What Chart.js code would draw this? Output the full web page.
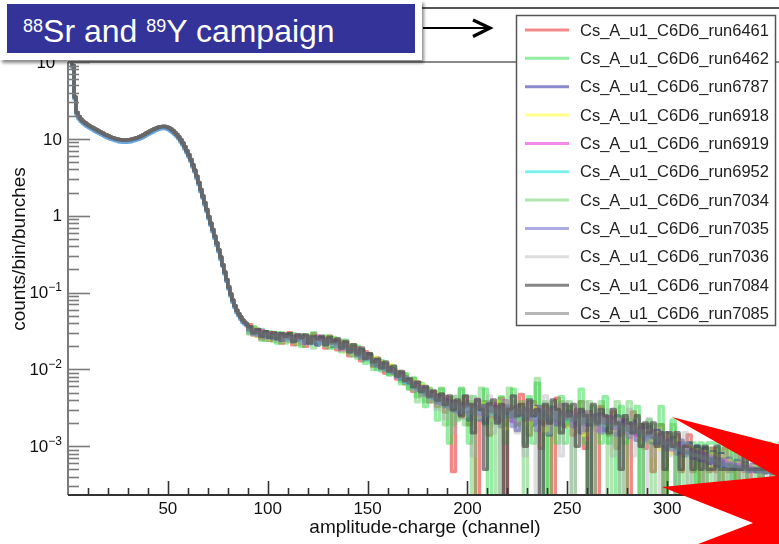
<!DOCTYPE html>
<html><head><meta charset="utf-8">
<script src="https://cdn.jsdelivr.net/npm/chart.js@4.4.1/dist/chart.umd.min.js"></script>
<style>
html,body{margin:0;padding:0;background:#fff;overflow:hidden;}
#wrap{position:relative;width:779px;height:544px;overflow:hidden;}
#c{position:absolute;left:0;top:0;}
#titleBox{position:absolute;left:0;top:0;width:422px;height:60px;background:#fff;box-shadow:2px 3px 3px rgba(0,0,0,0.45);}
#titleInner{position:absolute;left:7px;top:4px;width:408px;height:49px;background:#333399;color:#fff;
 font-family:"Liberation Sans",Arial,Helvetica,sans-serif;font-size:32px;line-height:55px;padding-left:16px;box-sizing:border-box;overflow:hidden;white-space:nowrap;}
#titleInner .sup{font-size:18px;position:relative;top:-10px;}
</style></head>
<body><div id="wrap"><canvas id="c" width="779" height="544"></canvas>
<div id="titleBox"><div id="titleInner"><span class="sup">88</span>Sr and <span class="sup">89</span>Y campaign</div></div>
</div>
<script>
// ---------- data ----------
const seriesLabels = ["Cs_A_u1_C6D6_run6461","Cs_A_u1_C6D6_run6462","Cs_A_u1_C6D6_run6787","Cs_A_u1_C6D6_run6918","Cs_A_u1_C6D6_run6919","Cs_A_u1_C6D6_run6952","Cs_A_u1_C6D6_run7034","Cs_A_u1_C6D6_run7035","Cs_A_u1_C6D6_run7036","Cs_A_u1_C6D6_run7084","Cs_A_u1_C6D6_run7085"];
const seriesColors = ["rgba(230,40,40,0.55)","rgba(40,220,70,0.5)","rgba(40,40,160,0.55)","rgba(255,255,60,0.6)","rgba(235,40,220,0.55)","rgba(40,230,230,0.6)","rgba(60,190,60,0.4)","rgba(90,90,200,0.5)","rgba(170,170,170,0.4)","rgba(70,70,70,0.65)","rgba(110,110,110,0.5)"];
const xTickLabels = [50,100,150,200,250,300,350];
const yDecades = [-3,-2,-1,0,1,2];
// channels 0..89, 1-channel bins (counts/bin/bunches)
const headValues = [400,200,90,35,22,19.5,18,17,16.2,15.5,
 14.9,14.4,13.9,13.4,13.0,12.6,12.2,11.8,11.4,11.1,
 10.8,10.5,10.3,10.1,9.95,9.8,9.7,9.65,9.6,9.65,
 9.7,9.8,9.95,10.1,10.3,10.5,10.8,11.1,11.5,11.9,
 12.3,12.7,13.1,13.5,13.85,14.15,14.4,14.5,14.45,14.25,
 13.9,13.4,12.8,12.1,11.4,10.6,9.7,8.8,7.9,7.0,
 6.2,5.4,4.6,3.9,3.25,2.7,2.2,1.8,1.47,1.2,
 0.97,0.8,0.66,0.54,0.44,0.36,0.29,0.23,0.185,0.148,
 0.118,0.096,0.08,0.068,0.059,0.053,0.048,0.044,0.041,0.039];
// slightly lower runs (6952, 7035) in channels 0..89
const headLowValues = [400,200,85,33,20.7,18.3,16.9,16,15.2,14.6,
 14,13.5,13.1,12.6,12.2,11.8,11.5,11.1,10.7,10.4,
 10.2,9.9,9.7,9.5,9.35,9.2,9.1,9.05,9.0,9.05,
 9.1,9.2,9.35,9.5,9.7,9.9,10.15,10.4,10.8,11.2,
 11.6,11.9,12.3,12.7,13.0,13.3,13.5,13.6,13.6,13.4,
 13.1,12.6,12.0,11.4,10.7,10.0,9.1,8.3,7.4,6.6,
 5.8,5.1,4.3,3.7,3.05,2.55,2.05,1.7,1.38,1.13,
 0.91,0.75,0.62,0.51,0.41,0.34,0.27,0.22,0.174,0.139,
 0.111,0.09,0.075,0.064,0.055,0.05,0.045,0.041,0.039,0.037];
// channels 90..360, 2-channel bins, in units of 1e-3 counts/bin/bunches
const tail6461 = [38,28,33,25,31,24,30,27,22,29, 30,21,27,28,20,26,29,22,25,19, 27,24,18,23,22,15,20,18,13,17,
 16,11,14,12,9,11,10,7.5,9.2,6.5, 7.5,5.2,6.8,4.6,5.8,3.8,5.2,3.3,4.7,2.8, 4.2,0.47,3.8,2.4,4.4,1.9,3.3,0,2.8,3.8,
 1.4,3.3,2.4,4.2,0,2.8,3.3,1.9,4.7,2.4, 1.4,3.8,2.8,0.94,3.3,2.4,0,4.2,2.8,1.9, 3.3,1.4,2.4,3.8,0.94,2.8,1.9,0,3.3,2.4,
 1.4,2.8,0.94,2.4,1.9,0,2.8,1.4,1.9,0.94, 1.9,0.47,1.4,1.9,0,1.4,0.94,1.4,0.47,0.94, 1.4,0.47,0.94,0,0.94,0.47,0.94,0.47,0,0.94,
 0.47,0.47,0,0.94,0.47,0,0.47,0.47,0,0.47, 0.47,0,0.47,0.47,0];
const tail6462 = [30,36,27,33,24,31,29,22,30,28, 23,29,26,20,28,25,30,21,24,27, 19,26,23,17,24,20,15,20,17,12,
 15,12,10,13,12,8.5,11,9,6.5,8.8, 5.5,7.7,4.4,6.6,3.3,5.5,4.4,2.2,5.5,3.3, 1.1,4.4,2.2,5.5,3.3,1.1,4.4,2.2,3.3,5.5,
 0,3.3,2.2,4.4,1.1,2.2,5.5,2.2,3.3,1.1, 4.4,1.1,6.6,2.2,0,3.3,2.2,1.1,4.4,1.1, 3.3,2.2,2.2,5.5,1.1,0,3.3,2.2,1.1,4.4,
 1.1,2.2,0,3.3,1.1,2.2,2.2,3.3,0,1.1, 2.2,1.1,1.1,3.3,0,1.1,2.2,0,1.1,1.1, 1.1,1.1,0,1.1,0,1.1,1.1,1.1,0,1.1,
 0,1.1,0,1.1,1.1,0,0,1.1,0,1.1, 1.1,0,0,1.1,0];
const tail6787 = [34,29,32,27,30,26,29,28,24,27, 28,23,27,25,22,26,24,21,26,23, 25,20,23,21,18,20,19,15,18,14,
 15,12.5,11.5,12,10,10.5,9.5,8,8.8,7, 7.2,5.9,6.3,5.0,5.6,4.3,4.9,3.7,4.4,3.3, 3.9,2.9,3.8,2.6,3.6,2.2,3.5,2.5,3.4,2.0,
 3.6,2.3,3.3,1.8,3.4,2.4,3.1,1.6,3.2,2.2, 3.0,1.9,3.3,2.0,2.8,1.4,3.1,2.2,2.7,1.8, 2.9,2.0,2.6,1.5,2.8,1.9,2.5,1.7,2.6,1.6,
 2.4,1.7,2.5,1.4,2.2,1.5,2.1,1.2,1.9,1.3, 1.8,1.1,1.6,1.0,1.5,0.9,1.3,0.8,1.2,0.75, 1.1,0.7,1.0,0.65,0.95,0.6,0.85,0.55,0.8,0.55,
 0.7,0.5,0.65,0.5,0.6,0.47,0.58,0.47,0.55,0.45, 0.5,0.45,0.48,0.44,0.45];
const tail6918 = [31,34,27,31,29,25,30,26,28,23, 25,28,22,27,26,23,27,25,21,26, 21,25,20,23,17,21,16,19,14,16,
 13,14.5,11,12.5,10,11.5,8.6,9.5,7.5,8.2, 6.5,7.2,5.5,6.3,4.8,5.4,4.2,4.9,3.7,4.3, 3.3,4.0,3.0,3.9,2.5,3.7,3.0,2.4,3.6,2.7,
 3.4,2.2,3.8,2.6,1.7,3.5,2.9,2.2,3.3,2.6, 1.9,3.2,2.4,3.0,1.6,2.8,3.1,2.0,2.6,2.3, 1.8,2.9,2.2,2.5,1.4,2.7,2.1,1.7,2.5,1.9,
 2.3,1.6,2.2,1.8,1.3,2.1,1.6,1.9,1.2,1.6, 1.5,1.2,1.5,0.9,1.4,1.1,0.8,1.2,0.95,0.8, 1.0,0.75,0.9,0.7,0.85,0.65,0.8,0.6,0.75,0.58,
 0.65,0.55,0.6,0.52,0.58,0.5,0.55,0.48,0.5,0.47, 0.47,0.46,0.45,0.45,0.44];
const tail6919 = [35,30,28,32,26,30,27,25,29,24, 27,25,28,22,27,24,22,27,23,25, 24,21,24,18,22,19,17,19,15,16,
 14.5,12,13,10.5,11.5,9.5,10,8,8.5,7.6, 6.6,6.9,5.4,6.0,4.6,5.3,4.3,4.6,3.6,4.4, 3.1,3.8,3.6,2.7,3.9,2.9,3.3,4.1,2.6,3.2,
 2.5,3.6,3.2,2.2,3.9,2.7,2.1,3.4,2.9,2.4, 3.7,2.2,2.6,3.3,1.9,3.0,2.7,2.0,3.5,2.2, 2.7,1.8,3.0,2.4,1.9,2.8,2.2,1.6,2.6,2.0,
 2.4,1.7,2.0,2.2,1.5,1.9,1.7,1.4,1.8,1.4, 1.3,1.6,1.1,1.4,1.0,1.2,0.9,1.1,0.8,1.0, 0.8,0.9,0.7,0.85,0.65,0.75,0.62,0.7,0.58,0.64,
 0.56,0.6,0.52,0.57,0.5,0.54,0.48,0.5,0.47,0.48, 0.46,0.47,0.45,0.45,0.44];
const tail6952 = [31,29,29,27,27,26,26,25,25,24, 25,23,24,23,23,22,22,22,22,21, 22,21,20,19,19,17,17,15.5,15,13.5,
 13,11.5,11.5,10,10,9,8.8,8,7.4,6.8, 6.4,5.9,5.5,5.1,4.7,4.5,4.1,4.0,3.7,3.5, 3.4,3.1,3.3,2.8,3.0,3.2,2.6,3.0,2.7,2.5,
 3.0,2.6,2.8,2.4,2.9,2.5,2.7,2.3,2.8,2.4, 2.6,2.5,2.3,2.7,2.4,2.2,2.6,2.3,2.4,2.1, 2.5,2.2,2.3,2.0,2.4,2.1,2.0,2.2,1.9,2.0,
 1.9,1.8,2.0,1.7,1.6,1.7,1.5,1.6,1.4,1.4, 1.3,1.3,1.2,1.1,1.1,1.0,0.95,0.9,0.9,0.85, 0.8,0.78,0.75,0.72,0.7,0.67,0.65,0.62,0.6,0.58,
 0.56,0.55,0.53,0.52,0.5,0.5,0.49,0.48,0.47,0.46, 0.46,0.45,0.45,0.44,0.44];
const tail7034 = [29,35,30,24,31,27,23,30,28,22, 29,24,21,28,25,27,19,26,24,21, 27,19,24,20,22,16,21,14,18,15,
 16,10,14,9.5,12,8.5,10,9,7,8.5, 5.7,7.6,3.8,5.7,3.8,5.7,3.8,3.8,5.7,1.9, 3.8,1.9,3.8,5.7,1.9,3.8,0,3.8,5.7,1.9,
 3.8,1.9,0,3.8,1.9,5.7,3.8,1.9,3.8,0, 1.9,3.8,7.6,1.9,3.8,0,3.8,1.9,3.8,1.9, 3.8,0,1.9,3.8,1.9,3.8,0,1.9,3.8,1.9,
 0,1.9,3.8,1.9,0,3.8,1.9,1.9,0,1.9, 1.9,0,1.9,1.9,0,0.95,1.9,0,0.95,0, 0.95,0,0.95,0,0,0.95,0,0.95,0,0,
 0,0.95,0,0,0.95,0,0,0,0.95,0, 0,0,0.95,0,0];
const tail7035 = [32,33,28,31,26,29,25,29,24,28, 25,27,24,27,22,25,26,21,26,23, 22,24,20,22,20,18,18,17,14,16,
 14,13.5,11,12,10,10.5,9,9.3,7.5,8, 6.7,6.5,5.6,5.8,4.8,5.0,4.2,4.6,3.6,4.1, 3.3,3.9,2.8,3.6,3.3,2.5,3.5,3.0,2.2,3.4,
 2.9,3.3,2.1,3.1,2.7,3.4,1.8,2.9,2.6,3.1, 2.3,2.9,1.6,3.0,2.5,2.2,3.2,1.9,2.6,2.4, 2.8,1.8,2.4,2.7,1.6,2.5,2.2,2.6,1.5,2.3,
 2.0,2.3,1.4,2.1,1.9,1.3,2.0,1.5,1.7,1.2, 1.5,1.3,1.1,1.4,0.9,1.2,1.0,0.8,1.1,0.8, 0.9,0.7,0.85,0.65,0.8,0.6,0.72,0.58,0.68,0.55,
 0.6,0.52,0.58,0.5,0.55,0.48,0.52,0.47,0.5,0.46, 0.47,0.45,0.46,0.44,0.45];
const tail7036 = [29,33,27,31,25,29,28,24,29,23, 27,23,28,22,27,21,26,24,23,20, 25,21,19,24,17,21,15,19,16,15,
 14,12,13,10,12,9,10,8,9,7, 7.5,5.3,6.8,4.5,6.0,3.8,5.3,3.0,4.5,2.3, 3.8,1.5,4.5,2.3,3.0,4.5,0.75,3.8,2.3,3.0,
 4.5,1.5,3.0,0,3.8,2.3,4.5,1.5,3.0,0.75, 3.8,2.3,0,3.0,4.5,1.5,3.0,2.3,0.75,3.8, 2.3,0,3.0,1.5,3.8,2.3,0,3.0,1.5,2.3,
 3.0,0.75,2.3,0,1.5,3.0,0.75,2.3,1.5,0, 2.3,0.75,1.5,0,1.5,0.75,1.5,0,0.75,1.5, 0,0.75,0.75,0.75,0,0.75,0.75,0,0.75,0.75,
 0,0.75,0.75,0,0.75,0,0.75,0.75,0,0.75, 0,0.75,0,0.75,0];
const tail7084 = [36,30,33,27,31,26,30,25,29,27, 29,23,28,26,28,22,27,25,27,21, 26,23,25,19,23,17,21,16,19,14,
 16,12.5,13.5,10.5,12.5,9.5,11,8.2,9.4,7.2, 7.5,6.0,6.8,5.2,6.0,4.5,5.2,4.0,4.8,3.5, 4.5,3.0,4.0,2.5,4.5,3.5,1.5,4.0,3.0,0.5,
 3.5,4.0,2.0,3.5,0,3.0,4.5,2.5,3.5,1.0, 4.0,2.5,3.0,0,3.5,2.0,4.0,3.0,1.5,3.5, 2.5,3.5,1.0,3.0,2.5,0,3.5,2.0,3.0,2.5,
 1.5,3.0,2.0,0.5,2.5,2.0,1.5,2.5,1.0,2.0, 1.5,2.0,1.0,1.5,0.5,1.5,1.0,1.5,0.5,1.0, 1.0,0.5,1.0,0.5,1.0,0.5,0.5,1.0,0.5,0.5,
 0.5,0.5,0.5,0.5,1.0,0.5,0.5,0.5,0.5,0.5, 0.5,0.5,0.5,0.5,0.5];
const tail7085 = [33,30,31,27,29,27,26,28,24,27, 26,24,25,26,23,26,22,25,24,22, 23,22,22,19,21,17,19,15.5,17,13.5,
 14.5,11.5,12.5,10.5,11,9.5,9.3,8.3,8.2,7, 6.8,6.2,5.8,5.4,5.0,4.6,4.4,4.1,3.9,3.6, 3.5,3.3,3.6,3.0,3.3,3.5,2.7,3.2,3.4,2.6,
 3.3,2.8,3.1,2.6,3.2,2.9,2.4,3.0,2.7,3.1, 2.5,2.9,2.6,2.3,3.0,2.4,2.7,2.2,2.8,2.3, 2.6,2.2,2.5,2.0,2.6,2.1,2.4,1.9,2.3,2.0,
 2.2,1.9,2.0,1.7,1.9,1.6,1.8,1.5,1.6,1.4, 1.4,1.3,1.3,1.2,1.1,1.1,1.0,0.95,0.9,0.85, 0.82,0.78,0.76,0.72,0.7,0.68,0.65,0.62,0.6,0.58,
 0.57,0.55,0.54,0.52,0.51,0.5,0.49,0.48,0.47,0.46, 0.46,0.45,0.45,0.44,0.44];
const tails = [tail6461,tail6462,tail6787,tail6918,tail6919,tail6952,tail7034,tail7035,tail7036,tail7084,tail7085];
const heads = [headValues,headValues,headValues,headValues,headValues,headLowValues,headValues,headLowValues,headValues,headValues,headValues];

const HEAD_BIN = 1, TAIL_START = 90, TAIL_BIN = 2, TAIL_UNIT = 1e-3, ZERO_FLOOR = 1e-7;
const X_MIN = 0, X_MAX = 356, Y_MIN = 2.32e-4, Y_MAX = 100;

function histPoints(head, tail){
  const pts = [];
  head.forEach((v,i)=>pts.push({x:i*HEAD_BIN, y:v>0?v:ZERO_FLOOR}));
  tail.forEach((v,i)=>pts.push({x:TAIL_START+i*TAIL_BIN, y:v>0?v*TAIL_UNIT:ZERO_FLOOR}));
  const last = tail[tail.length-1];
  pts.push({x:TAIL_START+tail.length*TAIL_BIN, y:last>0?last*TAIL_UNIT:ZERO_FLOOR});
  return pts;
}
const n = seriesLabels.length;
const datasets = seriesLabels.map((lab,i)=>({
  label: lab, data: histPoints(heads[i], tails[i]), borderColor: seriesColors[i],
  backgroundColor: seriesColors[i], borderWidth: 3.5, stepped: true, fill: false,
  pointRadius: 0, clip: 0, order: n - i, borderJoinStyle: 'round', borderCapStyle: 'round'
}));

const FONT = '"Liberation Sans", Arial, Helvetica, sans-serif';
const deco = {
  id: 'deco',
  afterDraw(chart){
    const ctx = chart.ctx, a = chart.chartArea, xs = chart.scales.x, ys = chart.scales.y;
    ctx.save();
    ctx.strokeStyle = '#8a8a8a'; ctx.lineWidth = 2;
    ctx.beginPath(); ctx.moveTo(a.left, a.top); ctx.lineTo(a.right+2, a.top); ctx.stroke();
    ctx.strokeStyle = '#7b7b7b'; ctx.lineWidth = 2;
    ctx.beginPath(); ctx.moveTo(a.left, a.top); ctx.lineTo(a.left, a.bottom); ctx.stroke();
    ctx.lineWidth = 1.6;
    for (let d = -4; d <= 2; d++){
      for (let m = 1; m <= 9; m++){
        const v = m*Math.pow(10,d);
        if (v < Y_MIN*0.999 || v > Y_MAX*1.001) continue;
        const py = Math.round(ys.getPixelForValue(v)) + 0.5;
        const len = m === 1 ? 22 : 11;
        ctx.beginPath(); ctx.moveTo(a.left, py); ctx.lineTo(a.left+len, py); ctx.stroke();
      }
    }
    ctx.strokeStyle = '#333'; ctx.lineWidth = 2;
    ctx.beginPath(); ctx.moveTo(a.left, a.bottom); ctx.lineTo(a.right+2, a.bottom); ctx.stroke();
    ctx.lineWidth = 1.6;
    for (let v = 10; v <= X_MAX; v += 10){
      const px = Math.round(xs.getPixelForValue(v)) + 0.5;
      const len = v % 50 === 0 ? 14 : 7;
      ctx.beginPath(); ctx.moveTo(px, a.bottom); ctx.lineTo(px, a.bottom-len); ctx.stroke();
    }
    ctx.fillStyle = '#111'; ctx.font = '17px ' + FONT; ctx.textAlign = 'center'; ctx.textBaseline = 'middle';
    xTickLabels.forEach(v=>{ ctx.fillText(String(v), xs.getPixelForValue(v), a.bottom + 14); });
    yDecades.forEach(e=>{
      const py = ys.getPixelForValue(Math.pow(10,e));
      const rightX = a.left - 6;
      let base = '10', sup = '';
      if (e === 0) base = '1'; else if (e === 1) base = '10'; else sup = e < 0 ? '\u2212' + (-e) : String(e);
      ctx.textAlign = 'right'; ctx.textBaseline = 'middle';
      let supW = 0;
      if (sup){ ctx.font = '12px ' + FONT; supW = ctx.measureText(sup).width; ctx.fillText(sup, rightX, py - 5); }
      ctx.font = '17px ' + FONT; ctx.fillText(base, rightX - supW, py + 1);
    });
    ctx.font = '19px ' + FONT; ctx.textAlign = 'center'; ctx.textBaseline = 'middle';
    ctx.fillText('amplitude-charge (channel)', 425, 528);
    ctx.save(); ctx.translate(20, 249); ctx.rotate(-Math.PI/2); ctx.fillText('counts/bin/bunches', 0, 0); ctx.restore();
    const L = {x:516, y:15, w:259, h:310, row0:30, dy:28.35};
    ctx.fillStyle = '#fff'; ctx.fillRect(L.x, L.y, L.w, L.h);
    ctx.strokeStyle = '#555'; ctx.lineWidth = 1.5; ctx.strokeRect(L.x+0.5, L.y+0.5, L.w, L.h);
    ctx.font = '16.5px ' + FONT; ctx.textAlign = 'left'; ctx.textBaseline = 'middle';
    chart.data.datasets.forEach((ds,i)=>{
      const yy = L.row0 + i*L.dy;
      ctx.strokeStyle = ds.borderColor; ctx.lineWidth = 3;
      ctx.beginPath(); ctx.moveTo(525, yy); ctx.lineTo(569, yy); ctx.stroke();
      ctx.fillStyle = '#222'; ctx.fillText(ds.label, 580, yy + 1);
    });
    ctx.strokeStyle = '#555'; ctx.lineWidth = 2;
    ctx.beginPath(); ctx.moveTo(415, 8); ctx.lineTo(779, 8); ctx.stroke();
    ctx.strokeStyle = '#000'; ctx.lineWidth = 2;
    ctx.beginPath(); ctx.moveTo(423, 28); ctx.lineTo(488, 28); ctx.stroke();
    ctx.lineWidth = 3.2; ctx.lineJoin = 'miter';
    ctx.beginPath(); ctx.moveTo(473, 20); ctx.lineTo(490, 28); ctx.lineTo(473, 36.5); ctx.stroke();
    ctx.fillStyle = '#ff0000';
    ctx.beginPath();
    ctx.moveTo(672,417); ctx.lineTo(781,445); ctx.lineTo(781,546); ctx.lineTo(693,546);
    ctx.lineTo(753,523); ctx.lineTo(662,487); ctx.lineTo(776,476); ctx.closePath(); ctx.fill();
    ctx.restore();
  }
};

new Chart(document.getElementById('c'), {
  type: 'line',
  data: { datasets },
  options: {
    responsive: false, animation: false, events: [],
    layout: { padding: { left: 68, top: 62, right: 0, bottom: 49 } },
    plugins: { legend: { display: false }, tooltip: { enabled: false } },
    scales: {
      x: { type: 'linear', min: X_MIN, max: X_MAX, display: false },
      y: { type: 'logarithmic', min: Y_MIN, max: Y_MAX, display: false }
    }
  },
  plugins: [deco]
});
</script></body></html>
